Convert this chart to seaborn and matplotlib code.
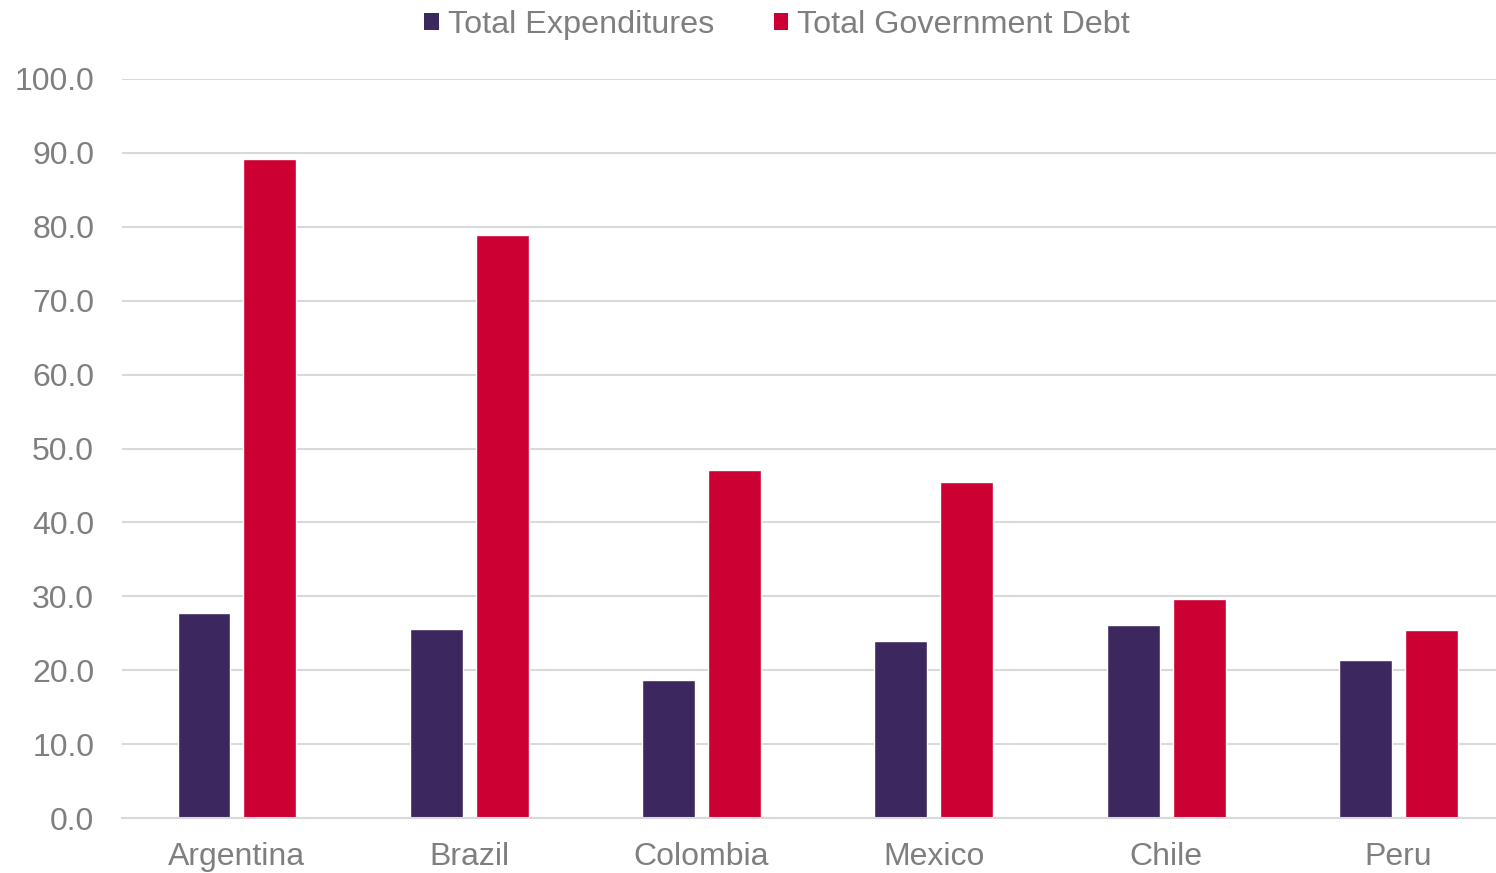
import matplotlib
matplotlib.use("Agg")
import matplotlib.pyplot as plt
import seaborn as sns
import pandas as pd
from matplotlib.patches import Patch

countries = ["Argentina", "Brazil", "Colombia", "Mexico", "Chile", "Peru"]
total_expenditures = [27.7, 25.6, 18.7, 24.0, 26.1, 21.4]
total_debt = [89.2, 78.9, 47.1, 45.5, 29.6, 25.4]
series_names = ["Total Expenditures", "Total Government Debt"]
colors = ["#3C285E", "#CC0033"]
yticks = [0, 10, 20, 30, 40, 50, 60, 70, 80, 90, 100]

df = pd.DataFrame({
    "Country": countries * 2,
    "Series": [series_names[0]] * len(countries) + [series_names[1]] * len(countries),
    "Value": total_expenditures + total_debt,
})

sns.set_theme(style="white")
plt.rcParams["font.family"] = ["Liberation Sans", "DejaVu Sans"]
text_color = "#7F7F7F"

fig = plt.figure(figsize=(14.96, 8.73), dpi=100)
ax = fig.add_axes([122 / 1496, 1 - 818 / 873, (1496 - 122) / 1496, (818 - 79) / 873])

sns.barplot(data=df, x="Country", y="Value", hue="Series", order=countries,
            hue_order=series_names, palette=colors, width=0.568, gap=0.197,
            ax=ax, legend=False, saturation=1)

ax.set_ylim(0, 100)
ax.set_xlim(-0.495, 5.42)
ax.set_yticks(yticks)
ax.set_yticklabels([f"{v:.1f}" for v in yticks])
ax.yaxis.grid(True, color="#D9D9D9", linewidth=1.5)
ax.set_axisbelow(True)
for s in ["top", "right", "left"]:
    ax.spines[s].set_visible(False)
ax.spines["bottom"].set_color("#D9D9D9")
ax.spines["bottom"].set_linewidth(1.5)
ax.set_xlabel("")
ax.set_ylabel("")
ax.tick_params(axis="both", length=0, labelsize=23, colors=text_color)
ax.tick_params(axis="y", pad=20)
ax.tick_params(axis="x", pad=17)

handles = [Patch(facecolor=c, edgecolor="none") for c in colors]
fig.legend(handles, series_names, loc="upper center", bbox_to_anchor=(777 / 1496, 1.022),
           ncol=2, frameon=False, fontsize=23.3, labelcolor=text_color,
           handlelength=0.45, handleheight=0.45, handletextpad=0.28, columnspacing=1.85)

fig.savefig("out.png", dpi=100)
